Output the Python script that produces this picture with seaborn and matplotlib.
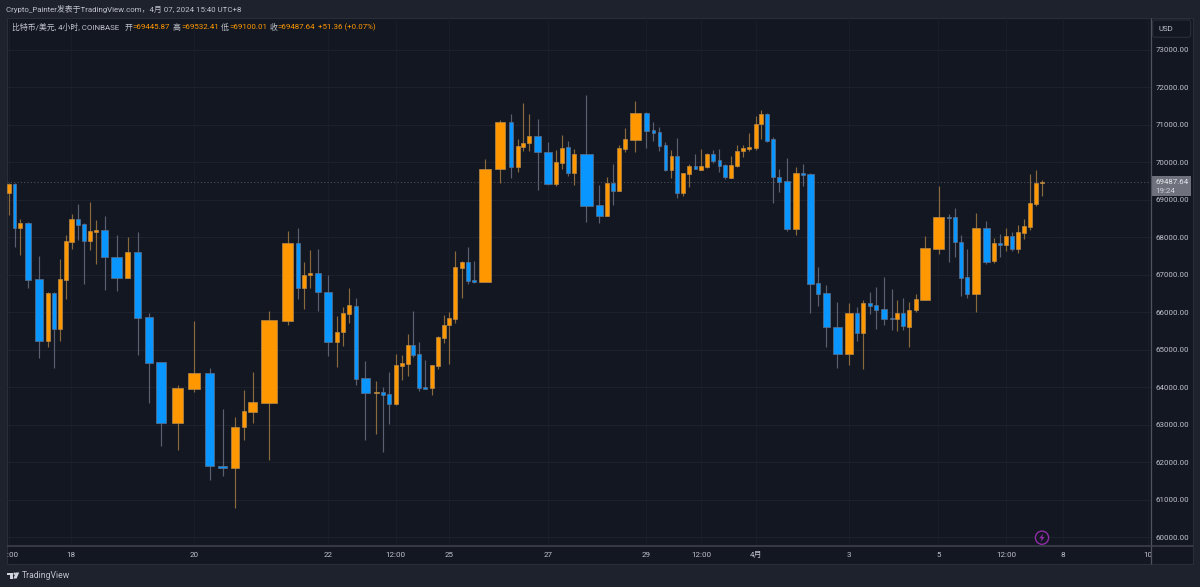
"""
BTC/USD 4h equivolume candles, TradingView dark look.
"""
import matplotlib
matplotlib.use('Agg')
import matplotlib.pyplot as plt
import numpy as np
import pandas as pd
import seaborn as sns
from matplotlib.patches import Circle, FancyBboxPatch, Polygon, Rectangle
from matplotlib.transforms import Bbox

W, H = 1200, 587

# Candle data
candle_x = [8.7, 14.7, 20.3, 28.3, 38.8, 48, 54, 59.7, 65.7, 71.5, 78, 83.8, 89.8, 95.7, 104.5, 116.7, 127.8, 137.5, 148.7,
            161, 177.5, 193.7, 209.7, 222.7, 235, 243.7, 252.7, 269, 287.5, 297.7, 304.3, 310.3, 318, 327.7, 337, 343,
            349.3, 355.7, 365, 376.3, 383.3, 389.3, 395.7, 401.7, 407.7, 413.3, 419.3, 425.3, 431.7, 437.7, 443.7, 449.3,
            455.3, 462, 468, 473.7, 484.8, 500, 511, 517.7, 523.3, 529.3, 537.7, 548.3, 556.3, 562, 568.3, 574.3, 586,
            599.3, 607.3, 613, 619, 625, 635.3, 646.3, 653.3, 659.3, 665.3, 671.3, 677, 683, 689.3, 695.3, 701.3, 707.3,
            713.3, 719.3, 725.3, 731.3, 737.3, 743.3, 749, 755.7, 761.3, 767.3, 773.3, 779.3, 787, 796, 802.7, 810.4,
            818.3, 826.3, 837.3, 849.3, 857.3, 863.3, 870, 876, 884, 891.7, 897.3, 903.3, 909.3, 915.7, 925, 938.7, 949.3,
            955, 961, 966.7, 976, 986.3, 993.7, 1000, 1006, 1012, 1018, 1023.7, 1030.3, 1036.3, 1042]
candle_volume = [4.3, 4, 4.7, 6.7, 8.3, 4.7, 4.3, 4.7, 4.7, 5, 4.3, 4.3, 4.3, 4.7, 8.3, 11.3, 5.7, 8.3, 8.7, 11.3, 12.3, 12.7,
                 10, 10.3, 8.7, 4.7, 9.7, 16, 11, 4.3, 4.7, 4.7, 6, 9, 4.7, 4.7, 5, 4.7, 9.7, 6.3, 5, 4.7, 5, 4.7, 4.7, 4.7,
                 5, 4.7, 4.7, 4.7, 4.7, 5, 5, 4.7, 4.7, 4.7, 12.3, 11.3, 5, 4.7, 4.7, 4.7, 7.7, 8.7, 4.7, 4.7, 5, 5, 13.7,
                 7.3, 4.7, 4.3, 4.7, 4.7, 11.3, 6, 4.3, 4.3, 4.3, 4.3, 4.3, 4.3, 5, 4.3, 5, 4.7, 4.7, 4.3, 5, 5, 4.7, 4.7, 5,
                 4.7, 5, 5, 4.7, 4.7, 7.3, 6, 4.7, 7, 4.7, 7.3, 10, 8.7, 5, 5, 4.7, 4.7, 7.3, 4.7, 5, 5, 4.7, 4.7, 10, 11.3,
                 4.7, 4.3, 4.3, 4.3, 8.7, 7.3, 4.7, 4.3, 4.3, 4.3, 4.7, 4.7, 4.7, 4.7, 5]
opens = [69195, 69430, 68245, 68387, 66885, 65248, 66520, 65568, 66875, 67888, 68501, 68360, 67915, 68155, 68208, 67472, 66928,
         67613, 65880, 64672, 63045, 63968, 64387, 61907, 61845, 62939, 63355, 63595, 65781, 67853, 66653, 66992, 67045, 66547,
         65213, 65472, 65960, 66181, 64245, 63853, 63880, 63827, 63560, 64581, 64635, 65125, 64893, 64005, 63995, 64581, 65328,
         65659, 65819, 67195, 67355, 66867, 66813, 69819, 71072, 69880, 70421, 70512, 70707, 70272, 69427, 69987, 70413, 69728,
         70235, 68859, 68581, 69453, 69248, 70368, 70600, 71328, 70859, 70805, 70467, 69800, 70165, 69187, 69693, 69899, 69808,
         69872, 70227, 70059, 69933, 69595, 69915, 70299, 70360, 70387, 71019, 71293, 70619, 69613, 69499, 68235, 69712, 69685,
         66779, 66512, 65621, 64901, 65979, 65461, 66253, 66200, 66093, 65845, 65819, 65987, 65621, 66059, 66341, 67685, 68547,
         68539, 67888, 66939, 66493, 68261, 67373, 67853, 67800, 68040, 67693, 68128, 68280, 68901, 69445.87]
highs = [69440, 69440, 68485, 68413, 67507, 66555, 66555, 67435, 68067, 68627, 68893, 68379, 68947, 68459, 68573, 68067, 68005,
         68147, 65979, 64680, 64067, 65781, 64512, 63427, 63205, 63933, 64421, 66048, 68165, 68245, 67355, 67667, 67701, 67000,
         65915, 66147, 66653, 66379, 64707, 64173, 64005, 64405, 64893, 64867, 65419, 66040, 65205, 64733, 64600, 65373, 65925,
         66021, 67648, 67373, 67747, 67373, 70085, 71133, 71293, 70635, 71595, 71301, 71160, 70539, 70325, 70733, 70581, 70368,
         71792, 69408, 69605, 69960, 70459, 70928, 71640, 71347, 71080, 70947, 70555, 70333, 70653, 69712, 69968, 70219, 70368,
         70245, 70333, 70352, 69952, 70165, 70475, 70475, 70779, 71232, 71400, 71312, 70688, 69827, 70112, 69880, 69952, 69720,
         67205, 66741, 66280, 66253, 66147, 66325, 66539, 66688, 66947, 66627, 66325, 66395, 66280, 66501, 68040, 69373, 68627,
         68787, 68067, 67693, 68653, 68440, 67995, 68101, 68253, 68155, 68333, 68501, 69685, 69800, 69532.41]
lows = [68600, 67755, 67541, 66645, 64795, 65072, 64512, 65248, 66368, 67701, 67933, 66760, 67675, 67285, 66608, 66573, 66928,
        64875, 63579, 62448, 62333, 63888, 61525, 61640, 60795, 62608, 63045, 62067, 65675, 66360, 66093, 66653, 66040, 64840,
        64547, 65115, 65728, 64075, 62592, 62752, 62280, 63027, 63533, 64200, 64299, 64805, 63899, 63960, 63800, 64493, 65187,
        64635, 65728, 66395, 66760, 66779, 66813, 69461, 69587, 69747, 70307, 70307, 69275, 69400, 69373, 69819, 69648, 69408,
        68405, 68379, 68581, 68859, 69248, 70280, 70280, 70387, 70573, 70315, 69773, 69595, 69045, 69107, 69347, 69827, 69808,
        69861, 69995, 69747, 69568, 69595, 69880, 70155, 70315, 70333, 70627, 70555, 68920, 69205, 68173, 68067, 69373, 65995,
        66173, 65072, 64528, 64600, 65248, 64501, 65968, 65568, 65667, 65525, 65507, 65525, 65080, 66013, 66325, 67568, 67355,
        67480, 66432, 66395, 66013, 67285, 67320, 67480, 67648, 67648, 67579, 67960, 68192, 68848, 69100.01]
closes = [69430, 68245, 68387, 66875, 65248, 66520, 65568, 66885, 67907, 68501, 68341, 67915, 68173, 68208, 67480, 66920, 67613,
          65861, 64653, 63045, 63987, 64387, 61915, 61845, 62939, 63373, 63605, 65800, 67861, 66661, 67000, 67045, 66547, 65213,
          65488, 65979, 66192, 64235, 63861, 63880, 63808, 63568, 64600, 64653, 65125, 64875, 63995, 63960, 64600, 65347, 65675,
          65845, 67213, 67355, 66840, 66813, 69827, 71072, 69880, 70440, 70520, 70707, 70272, 69427, 70013, 70387, 69728, 70227,
          68848, 68581, 69453, 69248, 70387, 70619, 71328, 70832, 70787, 70448, 69800, 70165, 69187, 69712, 69907, 69827, 69907,
          70235, 70040, 69915, 69613, 69933, 70307, 70379, 70413, 71035, 71293, 70581, 69605, 69488, 68235, 69712, 69667, 66768,
          66501, 65613, 64901, 65979, 65461, 66253, 66181, 66075, 65835, 65819, 65987, 65632, 66075, 66360, 67712, 68539, 68528,
          67888, 66928, 66485, 68261, 67355, 67853, 67808, 68040, 67685, 68147, 68299, 68920, 69453, 69487.64]

price_ticks = [60000, 61000, 62000, 63000, 64000, 65000, 66000, 67000, 68000, 69000, 70000, 71000, 72000, 73000]
time_tick_x = [8.7, 71.3, 193.7, 327.7, 395.7, 449.3, 548.3, 646.3, 701.3, 755.7, 849.3, 938.3, 1006, 1062.5, 1148]
time_tick_labels = ['12:00', '18', '20', '22', '12:00', '25', '27', '29', '12:00', '4月', '3', '5', '12:00', '8', '10']
last_price = 69487.64

UP = '#ff9800'
DOWN = '#0a96ff'
UP_WICK = '#8a6a3c'
DOWN_WICK = '#5a6070'
BG = '#131722'
CHROME = '#1e222d'
TEXT = '#c0c3cb'
AXIS_LINE = '#50535e'

sns.set_theme(style='darkgrid', rc={
    'axes.facecolor': BG,
    'figure.facecolor': CHROME,
    'lines.solid_capstyle': 'butt',
    'xtick.bottom': False,
    'ytick.left': False,
})
plt.rcParams['font.family'] = ['Roboto', 'Noto Sans CJK SC', 'DejaVu Sans']

df = pd.DataFrame({'x': candle_x, 'volume': candle_volume, 'open': opens, 'high': highs, 'low': lows, 'close': closes})
df['candle'] = df.index
df['direction'] = np.where(df['close'] >= df['open'], 'up', 'down')

# long table for wicks, one unit per candle
wicks = df.melt(id_vars=['candle', 'x', 'direction'], value_vars=['low', 'high'], value_name='price')

fig = plt.figure(figsize=(W / 100, H / 100), dpi=100)


def full_axes(zorder):
    """Axes over the whole figure, in picture pixels."""
    a = fig.add_axes([0, 0, 1, 1], zorder=zorder)
    a.set_xlim(0, W)
    a.set_ylim(H, 0)
    a.axis('off')
    a.patch.set_alpha(0)
    return a


under = full_axes(0)
over = full_axes(2)

under.add_patch(Rectangle((6.5, 17.5), 1186.5, 546, facecolor=BG, edgecolor='#2a2e39', lw=0.8))

x0, x1, y0, y1 = 6.5, 1150.5, 18, 545.5
ax = fig.add_axes([x0 / W, 1 - y1 / H, (x1 - x0) / W, (y1 - y0) / H], zorder=1)
ax.patch.set_alpha(0)

ax.axhline(last_price, color='#4a4d58', lw=0.8, ls=(0, (1, 2)), zorder=1)

sns.lineplot(data=wicks, x='x', y='price', units='candle', estimator=None, hue='direction',
             palette={'up': UP_WICK, 'down': DOWN_WICK}, linewidth=0.85, legend=False, sort=False, ax=ax)

for direction, color, edge in [('up', UP, '#b58a4c'), ('down', DOWN, '#5f6f86')]:
    part = df[df['direction'] == direction]
    ax.bar(part['x'], part['close'] - part['open'], bottom=part['open'], width=part['volume'] - 0.7,
           color=color, edgecolor=edge, linewidth=0.5, zorder=3)

ax.set_xlim(x0, x1)
ax.set_ylim(60000 + (537.5 - y1) / 37.5 * 1000, 60000 + (537.5 - y0) / 37.5 * 1000)
ax.set_xlabel('')
ax.set_ylabel('')

ax.yaxis.tick_right()
ax.set_yticks(price_ticks, [f'{p:.2f}' for p in price_ticks])
ax.set_xticks(time_tick_x, time_tick_labels)
ax.tick_params(axis='y', right=False, length=0, labelright=True, pad=3.7, labelsize=5.7, labelcolor=TEXT)
ax.tick_params(axis='x', length=0, pad=6.8, labelsize=5.8, labelcolor=TEXT)
ax.set_axisbelow(True)
ax.grid(True, axis='y', color='#1d212d', lw=0.8)
ax.grid(True, axis='x', color='#191d29', lw=0.8)

# the first and last time labels are cut at the pane edges
strip = Bbox([[x0, 0], [x1, H]])
for label in ax.get_xticklabels():
    label.set_va('center')
    label.set_clip_box(strip)
    label.set_clip_on(True)

for side in ['top', 'left', 'right', 'bottom']:
    ax.spines[side].set_visible(False)

# pane separators run on to the outer border
over.plot([1150.5, 1150.5], [17.5, 563.5], color=AXIS_LINE, lw=0.9)
over.plot([6.5, 1193], [545.5, 545.5], color='#3e414c', lw=1.2)

# title bar
over.text(6.5, 9, 'Crypto_Painter发表于TradingView.com，4月 07, 2024 15:40 UTC+8', color=TEXT,
          fontsize=5.7, va='center', ha='left')

# OHLC legend line
legend_y = 27.3
legend_bits = [
    (11.7, '比特币/美元, 4小时, COINBASE', TEXT),
    (124.3, '开', TEXT), (132.3, '=69445.87', UP),
    (173, '高', TEXT), (181, '=69532.41', UP),
    (221, '低', TEXT), (229, '=69100.01', UP),
    (269.7, '收', TEXT), (277.7, '=69487.64', UP),
    (318, '+51.36 (+0.07%)', UP),
]
for lx, s, c in legend_bits:
    over.text(lx, legend_y, s, color=c, fontsize=5.7, va='center', ha='left')

# currency box
over.add_patch(FancyBboxPatch((1152.7, 20), 38, 17.3, boxstyle='round,pad=0,rounding_size=2.5',
                              facecolor=BG, edgecolor='#2a2e39', lw=0.8))
over.text(1158.7, 29, 'USD', color=TEXT, fontsize=5.7, va='center', ha='left')

# last price tag
over.add_patch(Rectangle((1151, 176), 39.7, 20, facecolor='#6f727d', edgecolor='none'))
over.text(1155.5, 181.5, '69487.64', color='#e4e6eb', fontsize=5.7, va='center', ha='left')
over.text(1155.5, 191, '19:24', color='#d1d4dc', fontsize=5.7, va='center', ha='left')

# lightning badge
over.add_patch(Circle((1042, 537.7), 6.6, facecolor=BG, edgecolor='#8e2da5', lw=1))
over.add_patch(Polygon([(1043.2, 533.5), (1039.3, 538.3), (1041.6, 538.3), (1040.6, 542), (1044.6, 537), (1042.3, 537)],
                       closed=True, facecolor='#8e2da5', edgecolor='none'))

# TradingView mark
mark = '#d1d4dc'
over.add_patch(Polygon([(6.7, 572.5), (13.2, 572.5), (13.2, 578.5), (9.8, 578.5), (9.8, 575), (6.7, 575)],
                       closed=True, facecolor=mark, edgecolor='none'))
over.add_patch(Circle((14.6, 573.7), 1.2, facecolor=mark, edgecolor='none'))
over.add_patch(Polygon([(15.8, 572.5), (19.2, 572.5), (16.6, 578.5), (13.4, 578.5)],
                       closed=True, facecolor=mark, edgecolor='none'))
over.text(22, 575.5, 'TradingView', color=TEXT, fontsize=6.2, va='center', ha='left')

fig.savefig('out.png', dpi=100, facecolor=CHROME)
plt.close(fig)
